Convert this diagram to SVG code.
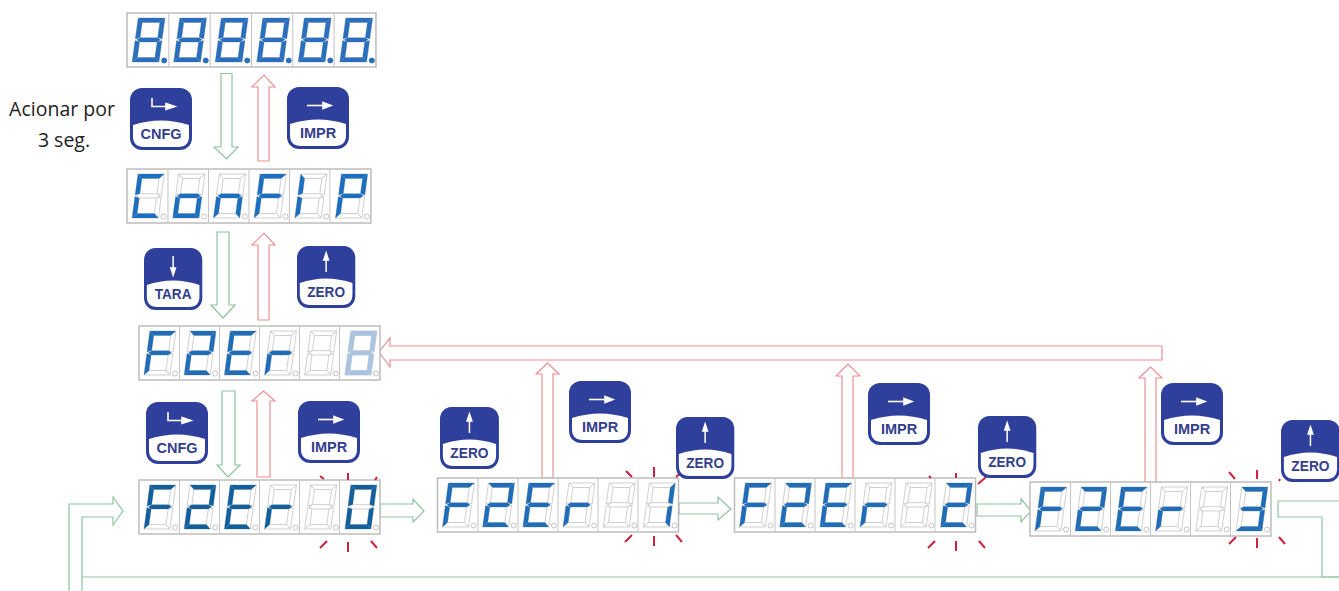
<svg xmlns="http://www.w3.org/2000/svg" width="1339" height="591" viewBox="0 0 1339 591">
<style>
.frame{fill:#fff;stroke:#bdbdbd;stroke-width:1.5}
.div{stroke:#c4c4c4;stroke-width:1;fill:none}
.ghost{fill:#fff;stroke:#c6c6c6;stroke-width:.8}
.dotg{fill:#fff;stroke:#bbb;stroke-width:.9}
.lit{fill:#1f6db8}
.top{fill:#2a6fbd}
.cfg{fill:#1c6fbe}
.dark{fill:#125f9e}
.pale{fill:#a8c4e2}
.g{fill:#fff;stroke:#8fc3a0;stroke-width:1.2}
.r{fill:#fff;stroke:#ec9092;stroke-width:1.2}
.gl{fill:none;stroke:#8fc3a0;stroke-width:1.2}
.tick{stroke:#d0223f;stroke-width:2;fill:none}
.bb{fill:#2f409c}
.bw{fill:#fff}
.ba{fill:#fff;stroke:#fff;stroke-width:1.6}
.bt{font:bold 14.5px "Liberation Sans",Arial,sans-serif;fill:#343f8c;text-anchor:middle}
.cap{font:19.5px "Open Sans","Noto Sans",sans-serif;fill:#222;text-anchor:middle}
</style>
<defs>
<path id="sa" d="M11.500 5H37.500L33 9.500H16Z"/>
<path id="sb" d="M37.500 5V26L33 24.500V9.500Z"/>
<path id="sc" d="M37.500 27.500V49L33 44.500V29Z"/>
<path id="sd" d="M11.500 49H37.500L33 44.500H16Z"/>
<path id="se" d="M11.500 27.500V49L16 44.500V29Z"/>
<path id="sf" d="M11.500 5V26L16 24.500V9.500Z"/>
<path id="sg" d="M13 26.800L16 24.700H33L36 26.800L33 29H16Z"/>
<g id="gh"><g class="ghost" transform="skewX(-7.6)"><use href="#sa"/><use href="#sb"/><use href="#sc"/><use href="#sd"/><use href="#se"/><use href="#sf"/><use href="#sg"/></g><circle class="dotg" cx="36" cy="47.500" r="2.500"/></g>
<g id="d8" transform="skewX(-7.6)"><use href="#sa"/><use href="#sb"/><use href="#sc"/><use href="#sd"/><use href="#se"/><use href="#sf"/><use href="#sg"/></g>
<g id="d0" transform="skewX(-7.6)"><use href="#sa"/><use href="#sb"/><use href="#sc"/><use href="#sd"/><use href="#se"/><use href="#sf"/></g>
<g id="d1" transform="skewX(-7.6)"><use href="#sb"/><use href="#sc"/></g>
<g id="d2" transform="skewX(-7.6)"><use href="#sa"/><use href="#sb"/><use href="#sg"/><use href="#se"/><use href="#sd"/></g>
<g id="d3" transform="skewX(-7.6)"><use href="#sa"/><use href="#sb"/><use href="#sg"/><use href="#sc"/><use href="#sd"/></g>
<g id="dF" transform="skewX(-7.6)"><use href="#sa"/><use href="#sf"/><use href="#sg"/><use href="#se"/></g>
<g id="dE" transform="skewX(-7.6)"><use href="#sa"/><use href="#sf"/><use href="#sg"/><use href="#se"/><use href="#sd"/></g>
<g id="dr" transform="skewX(-7.6)"><use href="#sg"/><use href="#se"/></g>
<g id="dC" transform="skewX(-7.6)"><use href="#sa"/><use href="#sf"/><use href="#se"/><use href="#sd"/></g>
<g id="do" transform="skewX(-7.6)"><use href="#sg"/><use href="#sc"/><use href="#sd"/><use href="#se"/></g>
<g id="dn" transform="skewX(-7.6)"><use href="#sg"/><use href="#sc"/><use href="#se"/></g>
<g id="dI" transform="skewX(-7.6)"><use href="#se"/><use href="#sf"/></g>
<g id="dP" transform="skewX(-7.6)"><use href="#sa"/><use href="#sb"/><use href="#sf"/><use href="#sg"/><use href="#se"/></g>
<g id="panel">
<rect class="frame" x="0" y="0" width="241" height="54"/>
<path class="div" d="M40.500 0V54M80.500 0V54M120.500 0V54M160.500 0V54M200.500 0V54"/>
<use href="#gh"/><use href="#gh" x="40.200"/><use href="#gh" x="80.400"/><use href="#gh" x="120.600"/><use href="#gh" x="160.800"/><use href="#gh" x="201"/>
</g>
<g id="body">
<rect class="bb" x="0" y="0" width="62" height="62" rx="12"/>
<path class="bw" d="M3 37Q31 28 59 37V48Q59 59 48 59H14Q3 59 3 48Z"/>
</g>
<g id="aR"><path class="ba" d="M20 18.500H36"/><path class="ba" d="M36 15.500L44 18.500L36 21.500Z" stroke-width="1"/></g>
<g id="aU"><path class="ba" d="M31 26V13"/><path class="ba" d="M28.500 14L31 7L33.500 14Z" stroke-width="1"/></g>
<g id="aD"><path class="ba" d="M31 8V21"/><path class="ba" d="M28.500 20L31 27L33.500 20Z" stroke-width="1"/></g>
<g id="aE"><path d="M22 10V18.500H37" fill="none" stroke="#fff" stroke-width="1.600"/><path class="ba" d="M36 15.500L45 18.500L36 21.500Z" stroke-width="1"/></g>
</defs>

<g id="connectors">
<path id="c1" class="g" d="M221 73.500H232V147H238L226.500 159L214 147H221Z"/>
<path id="c2" class="r" d="M258 161V87H252L264 75L275 87H269V161Z"/>
<path id="c3" class="g" d="M217 232H229V305H235L223 318L211 305H217Z"/>
<path id="c4" class="r" d="M258 320V245H252L264 233L275 245H269V320Z"/>
<path id="c5" class="r" d="M1162 346V360H390V367L379 352L390 338V346Z"/>
<path id="c6" class="g" d="M222 391H235V465H240L228 477L217 465H222Z"/>
<path id="c7" class="r" d="M257 477V401H252L263.500 391L275 401H270V477Z"/>
<path id="c8" class="g" d="M69 591V504H113V497L123 511L113 525V517H82V591"/>
<path id="c9" class="gl" d="M82 577H1339"/>
<path id="c10" class="g" d="M380 504H413V499L424 511L413 522V517H380Z"/>
<path id="c11" class="r" d="M542 478V374H536L547.500 363L559 374H553V478Z"/>
<path id="c12" class="g" d="M679 503H718V497L731 509L718 520V514H679Z"/>
<path id="c13" class="r" d="M842 478V376H836L848 364L860 376H853V478Z"/>
<path id="c14" class="g" d="M977 504H1021V499L1031 511L1021 522V516H977Z"/>
<path id="c15" class="r" d="M1145 482V378H1139L1150.500 367L1162 378H1156V482Z"/>
<path id="c16" class="gl" d="M1339 501H1278V517H1322V577H1339"/>
</g>

<g id="display-test" transform="translate(127 13) scale(1.033 1)">
<use href="#panel"/>
<g class="top"><use href="#d8"/><use href="#d8" x="40.200"/><use href="#d8" x="80.400"/><use href="#d8" x="120.600"/><use href="#d8" x="160.800"/><use href="#d8" x="201"/>
<circle cx="36" cy="47.500" r="2.700"/><circle cx="76.200" cy="47.500" r="2.700"/><circle cx="116.400" cy="47.500" r="2.700"/><circle cx="156.600" cy="47.500" r="2.700"/><circle cx="196.800" cy="47.500" r="2.700"/><circle cx="237" cy="47.500" r="2.700"/></g>
</g>
<g id="display-config" transform="translate(127 169) scale(1.012 1)">
<use href="#panel"/>
<g class="cfg"><use href="#dC"/><use href="#do" x="40.200"/><use href="#dn" x="80.400"/><use href="#dF" x="120.600"/><use href="#dI" x="160.800"/><use href="#dP" x="201"/></g>
</g>
<g id="display-f2er8" transform="translate(139 326)">
<use href="#panel"/>
<g class="lit"><use href="#dF"/><use href="#d2" x="40.200"/><use href="#dE" x="80.400"/><use href="#dr" x="120.600"/></g>
<use class="pale" href="#d8" x="201"/>
</g>
<g id="display-f2er0" transform="translate(139 480)">
<use href="#panel"/>
<g class="dark"><use href="#dF"/><use href="#d2" x="40.200"/><use href="#dE" x="80.400"/><use href="#dr" x="120.600"/><use href="#d0" x="201"/></g>
</g>
<g id="display-f2er1" transform="translate(437.500 478)">
<use href="#panel"/>
<g class="lit"><use href="#dF"/><use href="#d2" x="40.200"/><use href="#dE" x="80.400"/><use href="#dr" x="120.600"/><use href="#d1" x="201"/></g>
</g>
<g id="display-f2er2" transform="translate(734.500 478)">
<use href="#panel"/>
<g class="lit"><use href="#dF"/><use href="#d2" x="40.200"/><use href="#dE" x="80.400"/><use href="#dr" x="120.600"/><use href="#d2" x="201"/></g>
</g>
<g id="display-f2er3" transform="translate(1030 482)">
<use href="#panel"/>
<g class="lit"><use href="#dF"/><use href="#d2" x="40.200"/><use href="#dE" x="80.400"/><use href="#dr" x="120.600"/><use href="#d3" x="201"/></g>
</g>

<g id="blink-ticks" class="tick">
<path d="M348 473V480M320 476L324 479M375 480L377 477M348 542V552M320 548L327 541M371 541L377 548"/>
<path d="M654 467V477M626 471L632 477M676 477L682 472M654 536V546M625 542L632 535M676 535L682 542"/>
<path d="M956 473V478M929 476L931 478M978 484L986 477M956 541V551M928 548L935 541M979 541L985 548"/>
<path d="M1257 470V479M1229 472L1235 479M1279 481L1280 479M1257 538V548M1229 544L1236 537M1279 537L1285 544"/>
</g>

<g id="caption">
<text class="cap" x="62" y="116">Acionar por</text>
<text class="cap" x="64" y="147">3 seg.</text>
</g>

<g id="btn-cnfg-1" transform="translate(130 88)"><use href="#body"/><use href="#aE"/><text class="bt" x="31" y="51">CNFG</text></g>
<g id="btn-impr-1" transform="translate(287 87)"><use href="#body"/><use href="#aR"/><text class="bt" x="31" y="51">IMPR</text></g>
<g id="btn-tara" transform="translate(144 248) scale(.94 1)"><use href="#body"/><use href="#aD"/><text class="bt" x="31" y="51">TARA</text></g>
<g id="btn-zero-1" transform="translate(297 246) scale(.94 1)"><use href="#body"/><use href="#aU"/><text class="bt" x="31" y="51">ZERO</text></g>
<g id="btn-cnfg-2" transform="translate(146 402)"><use href="#body"/><use href="#aE"/><text class="bt" x="31" y="51">CNFG</text></g>
<g id="btn-impr-2" transform="translate(298 401)"><use href="#body"/><use href="#aR"/><text class="bt" x="31" y="51">IMPR</text></g>
<g id="btn-zero-2" transform="translate(440 407) scale(.95 1)"><use href="#body"/><use href="#aU"/><text class="bt" x="31" y="51">ZERO</text></g>
<g id="btn-impr-3" transform="translate(569 381)"><use href="#body"/><use href="#aR"/><text class="bt" x="31" y="51">IMPR</text></g>
<g id="btn-zero-3" transform="translate(676 417) scale(.94 1)"><use href="#body"/><use href="#aU"/><text class="bt" x="31" y="51">ZERO</text></g>
<g id="btn-impr-4" transform="translate(868 383)"><use href="#body"/><use href="#aR"/><text class="bt" x="31" y="51">IMPR</text></g>
<g id="btn-zero-4" transform="translate(978 416) scale(.94 1)"><use href="#body"/><use href="#aU"/><text class="bt" x="31" y="51">ZERO</text></g>
<g id="btn-impr-5" transform="translate(1161 383)"><use href="#body"/><use href="#aR"/><text class="bt" x="31" y="51">IMPR</text></g>
<g id="btn-zero-5" transform="translate(1281 420) scale(.95 1)"><use href="#body"/><use href="#aU"/><text class="bt" x="31" y="51">ZERO</text></g>
</svg>
